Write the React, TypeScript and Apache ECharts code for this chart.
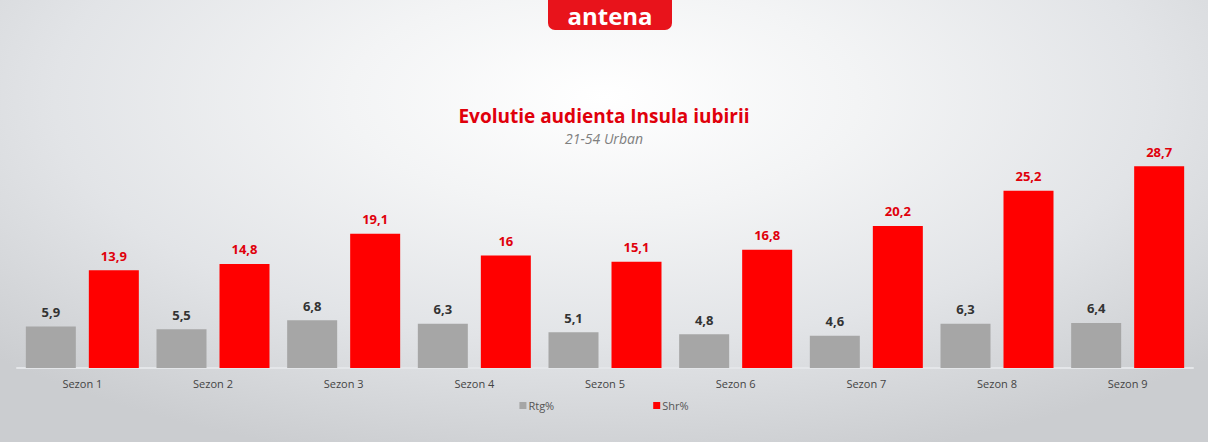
import React, { useEffect, useRef } from "react";
import * as echarts from "echarts";

const categories = ["Sezon 1", "Sezon 2", "Sezon 3", "Sezon 4", "Sezon 5", "Sezon 6", "Sezon 7", "Sezon 8", "Sezon 9"];
const rtgValues = [5.9, 5.5, 6.8, 6.3, 5.1, 4.8, 4.6, 6.3, 6.4];
const shrValues = [13.9, 14.8, 19.1, 16, 15.1, 16.8, 20.2, 25.2, 28.7];
const seriesNames = ["Rtg%", "Shr%"];
const titleText = "Evolutie audienta Insula iubirii";
const subtitleText = "21-54 Urban";
const logoText = "antena";

const fmt = (p: any) => String(p.value).replace(".", ",");

export default function App() {
  const ref = useRef<HTMLDivElement>(null);
  useEffect(() => {
    if (!ref.current) return;
    const chart = echarts.init(ref.current, undefined, { renderer: "svg" });
    const font = "'Open Sans', 'Noto Sans', sans-serif";
    chart.setOption({
      animation: false,
      backgroundColor: "transparent",
      title: [
        {
          text: titleText,
          left: "center",
          top: 104,
          padding: 0,
          textStyle: { color: "#e0000b", fontSize: 19, fontWeight: "bold", fontFamily: font, lineHeight: 24 },
        },
        {
          text: subtitleText,
          left: "center",
          top: 130,
          padding: 0,
          textStyle: { color: "#7f7f7f", fontSize: 14, fontStyle: "italic", fontWeight: "normal", fontFamily: font, lineHeight: 16 },
        },
      ],
      legend: {
        data: seriesNames,
        bottom: 26,
        left: "center",
        itemWidth: 7,
        itemHeight: 7,
        itemGap: 99,
        icon: "rect",
        textStyle: { color: "#555", fontSize: 11, fontFamily: font, padding: [0, 0, 0, -3] },
      },
      grid: { left: 17, right: 15, top: 157, bottom: 74 },
      xAxis: {
        type: "category",
        data: categories,
        axisLine: { lineStyle: { color: "#e4e6e9", width: 2 } },
        axisTick: { show: false },
        axisLabel: { color: "#444", fontSize: 11, fontFamily: font, margin: 10 },
      },
      yAxis: { type: "value", min: 0, max: 30, show: false, splitLine: { show: false } },
      series: [
        {
          name: seriesNames[0],
          type: "bar",
          data: rtgValues,
          barWidth: 50,
          barGap: "26%",
          itemStyle: { color: "#a6a6a6" },
          label: { show: true, position: "top", distance: 8, formatter: fmt, color: "#333", fontWeight: "bold", fontSize: 13, fontFamily: font },
        },
        {
          name: seriesNames[1],
          type: "bar",
          data: shrValues,
          barWidth: 50,
          itemStyle: { color: "#ff0000" },
          label: { show: true, position: "top", distance: 8, formatter: fmt, color: "#e0000b", fontWeight: "bold", fontSize: 13, fontFamily: font },
        },
      ],
      graphic: [
        {
          type: "rect",
          left: 548,
          top: -6,
          shape: { x: 0, y: 0, width: 124, height: 36, r: 7 },
          style: { fill: "#e8131b" },
        },
        {
          type: "text",
          x: 610,
          y: 3,
          style: { text: logoText, fill: "#fff", font: "bold 24px 'Open Sans', sans-serif", lineHeight: 24, align: "center", verticalAlign: "top" },
        },
      ],
    });
    return () => chart.dispose();
  }, []);
  return (
    <div
      style={{
        position: "absolute",
        left: 0,
        top: 0,
        width: 1208,
        height: 442,
        background: "radial-gradient(ellipse 70% 85% at 50% 22%, #ffffff 0%, #f3f4f5 30%, #e2e4e7 65%, #cbcdd0 100%)",
      }}
    >
      <div ref={ref} style={{ width: 1208, height: 442 }} />
    </div>
  );
}
